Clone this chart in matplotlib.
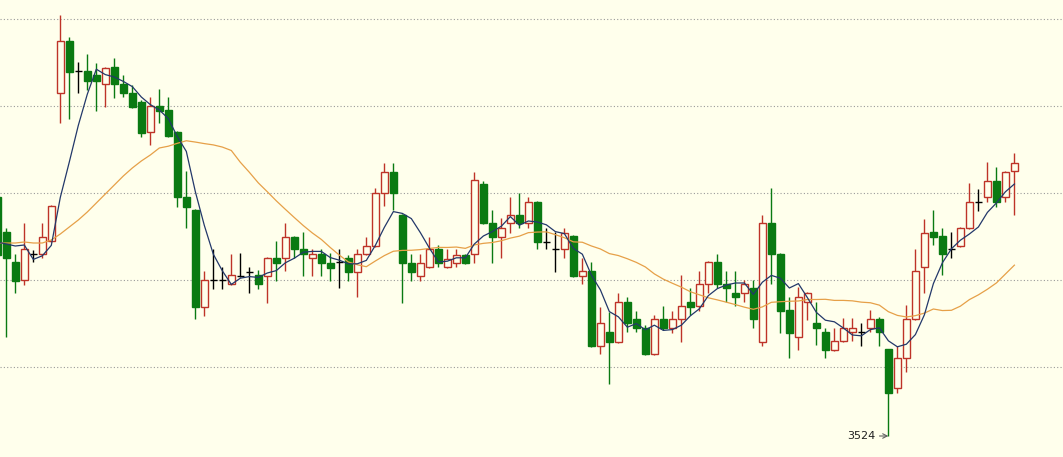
import matplotlib.pyplot as plt
import numpy as np
import pandas as pd

# daily bars, the first one is cut off at the left edge
opens = [3763, 3728, 3698, 3680, 3706, 3706, 3719, 3867, 3919, 3889,
         3889, 3885, 3876, 3893, 3876, 3867, 3858, 3828, 3854, 3850,
         3828, 3763, 3750, 3653, 3680, 3680, 3676, 3684, 3688, 3685,
         3684, 3702, 3702, 3723, 3711, 3702, 3706, 3697, 3698, 3702,
         3688, 3706, 3714, 3767, 3788, 3745, 3697, 3684, 3693, 3711,
         3693, 3697, 3705, 3706, 3776, 3737, 3723, 3737, 3745, 3737,
         3758, 3718, 3711, 3711, 3724, 3684, 3689, 3614, 3628, 3618,
         3658, 3641, 3632, 3606, 3641, 3632, 3641, 3658, 3654, 3676,
         3698, 3676, 3667, 3667, 3672, 3618, 3737, 3706, 3650, 3623,
         3658, 3637, 3628, 3610, 3619, 3628, 3628, 3632, 3641, 3611,
         3572, 3602, 3641, 3693, 3728, 3724, 3711, 3714, 3732, 3758,
         3763, 3779, 3763, 3789]
highs = [3765, 3732, 3706, 3737, 3710, 3737, 3755, 3945, 3923, 3898,
         3906, 3897, 3893, 3902, 3885, 3875, 3860, 3863, 3871, 3863,
         3829, 3789, 3751, 3689, 3711, 3693, 3706, 3707, 3693, 3690,
         3703, 3719, 3737, 3724, 3728, 3711, 3711, 3707, 3711, 3705,
         3711, 3723, 3772, 3797, 3797, 3746, 3706, 3706, 3723, 3715,
         3711, 3711, 3706, 3788, 3779, 3750, 3742, 3763, 3767, 3763,
         3759, 3732, 3728, 3732, 3725, 3702, 3698, 3653, 3648, 3667,
         3663, 3649, 3635, 3645, 3654, 3649, 3685, 3672, 3689, 3699,
         3706, 3689, 3689, 3680, 3680, 3745, 3772, 3707, 3663, 3673,
         3668, 3658, 3632, 3632, 3642, 3642, 3637, 3650, 3643, 3611,
         3614, 3655, 3711, 3741, 3750, 3732, 3728, 3733, 3777, 3771,
         3798, 3793, 3789, 3807]
lows = [3624, 3623, 3667, 3675, 3698, 3702, 3718, 3837, 3841, 3867,
        3870, 3849, 3853, 3862, 3863, 3852, 3823, 3815, 3837, 3823,
        3753, 3732, 3641, 3644, 3671, 3671, 3675, 3683, 3667, 3671,
        3657, 3679, 3689, 3702, 3684, 3684, 3684, 3679, 3672, 3679,
        3663, 3705, 3713, 3754, 3750, 3657, 3679, 3679, 3692, 3693,
        3692, 3693, 3696, 3697, 3736, 3697, 3702, 3727, 3732, 3732,
        3711, 3711, 3688, 3702, 3683, 3676, 3613, 3606, 3576, 3617,
        3628, 3628, 3605, 3605, 3630, 3627, 3618, 3645, 3649, 3667,
        3672, 3658, 3654, 3658, 3632, 3614, 3676, 3627, 3602, 3610,
        3640, 3615, 3602, 3609, 3618, 3619, 3614, 3628, 3614, 3524,
        3567, 3588, 3640, 3667, 3715, 3685, 3702, 3713, 3731, 3749,
        3758, 3753, 3758, 3745]
closes = [3705, 3702, 3679, 3711, 3706, 3723, 3754, 3919, 3888, 3889,
          3879, 3879, 3892, 3876, 3867, 3853, 3827, 3854, 3849, 3824,
          3763, 3753, 3653, 3680, 3680, 3680, 3685, 3684, 3688, 3676,
          3702, 3697, 3723, 3711, 3706, 3706, 3697, 3692, 3698, 3688,
          3706, 3714, 3767, 3788, 3767, 3697, 3688, 3697, 3711, 3697,
          3701, 3705, 3697, 3780, 3737, 3723, 3732, 3745, 3737, 3758,
          3718, 3718, 3711, 3727, 3684, 3689, 3614, 3637, 3618, 3658,
          3637, 3632, 3606, 3641, 3632, 3641, 3654, 3653, 3676, 3698,
          3676, 3672, 3663, 3676, 3641, 3737, 3706, 3649, 3627, 3663,
          3667, 3632, 3610, 3619, 3632, 3632, 3628, 3641, 3628, 3567,
          3602, 3641, 3689, 3727, 3723, 3706, 3711, 3732, 3758, 3758,
          3779, 3758, 3788, 3797]

# moving averages where the visible bars are not enough
ma5_head = [3718, 3716, 3714, 3715]
ma20_head = [3717, 3717, 3717, 3718, 3717, 3717, 3720, 3726, 3733, 3740,
             3748, 3757, 3766, 3775, 3784, 3792, 3799, 3805, 3812]

grid_levels = [3593, 3680, 3767, 3854, 3941]
low_label = "3524"

BG = '#FFFFEC'
UP = '#BE3328'
DOWN = '#0A7A12'
DOJI = '#000000'

x = np.arange(len(opens)) - 1
o = np.array(opens)
h = np.array(highs)
l = np.array(lows)
c = np.array(closes)

ma5 = pd.Series(closes).rolling(5).mean().values
ma5[:len(ma5_head)] = ma5_head
ma20 = pd.Series(closes).rolling(20).mean().values
ma20[:len(ma20_head)] = ma20_head

fig = plt.figure(figsize=(10.63, 4.57), dpi=100)
ax = fig.add_axes([0, 0, 1, 1])
ax.set_facecolor(BG)
fig.patch.set_facecolor(BG)

for g in grid_levels:
    ax.axhline(g, color='#9A9A9A', lw=0.8, ls=(0, (1, 2)), zorder=1)

w = 0.78
up = c > o
down = c < o
doji = c == o

# wicks
ax.vlines(x[up], l[up], h[up], color=UP, lw=1, zorder=2)
ax.vlines(x[down], l[down], h[down], color=DOWN, lw=1, zorder=2)
ax.vlines(x[doji], l[doji], h[doji], color=DOJI, lw=1, zorder=2)

# bodies
ax.bar(x[up], c[up] - o[up], bottom=o[up], width=w, facecolor=BG,
       edgecolor=UP, lw=1, zorder=3)
ax.bar(x[down], o[down] - c[down], bottom=c[down], width=w, facecolor=DOWN,
       edgecolor=DOWN, lw=1, zorder=3)
ax.hlines(c[doji], x[doji] - w / 2, x[doji] + w / 2, color=DOJI, lw=1, zorder=3)

# moving averages
ax.plot(x, ma20, color='#E6A048', lw=0.9, zorder=4)
ax.plot(x, ma5, color='#23386A', lw=0.9, zorder=5)

# lowest point label
i_low = int(np.argmin(l))
ax.annotate(low_label, xy=(x[i_low], l[i_low]), xytext=(x[i_low] - 1.45, l[i_low]),
            ha='right', va='center', fontsize=8, color='#202020',
            arrowprops=dict(arrowstyle='->', color='#606060', lw=0.8,
                            shrinkA=1, shrinkB=0))

ax.set_xlim(-0.7, 117.4)
ax.set_ylim(3503, 3960)
ax.axis('off')

fig.savefig('out.png', dpi=100, facecolor=BG)
